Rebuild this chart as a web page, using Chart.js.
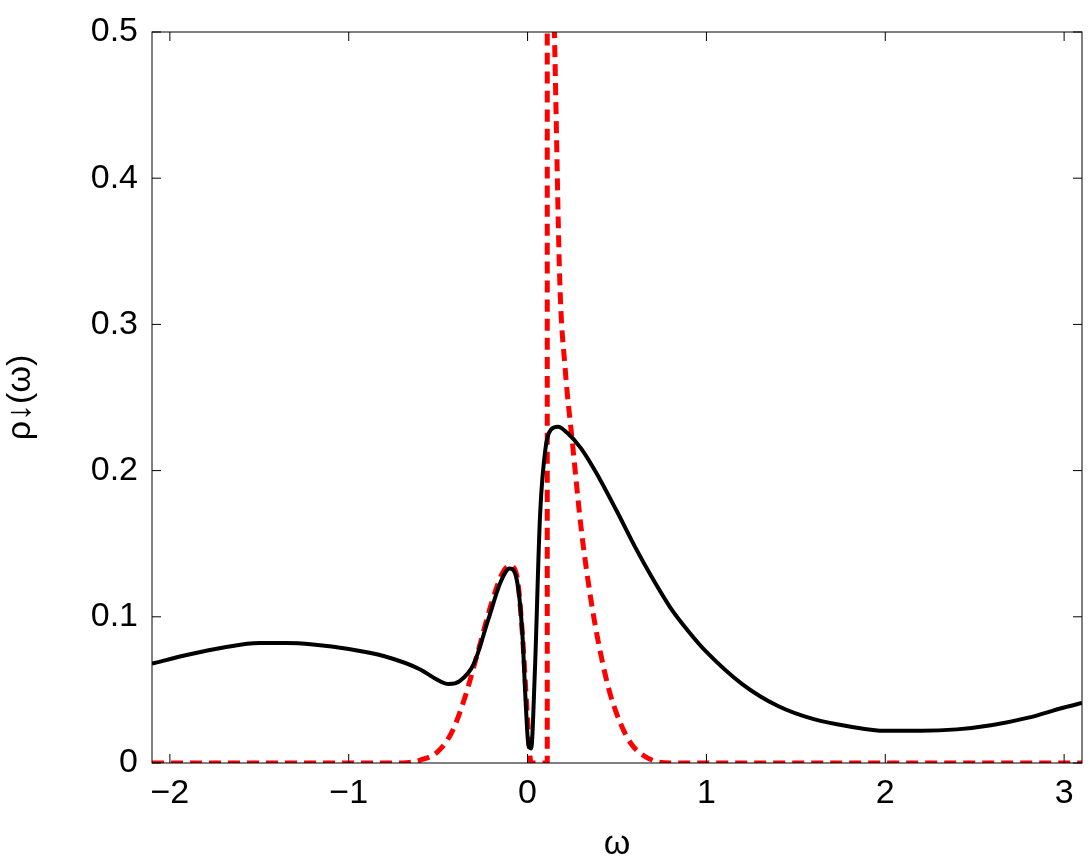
<!DOCTYPE html>
<html><head><meta charset="utf-8">
<script src="https://cdn.jsdelivr.net/npm/chart.js@4"></script>
<style>html,body{margin:0;padding:0;background:#fff}#w{width:1090px;height:865px}</style>
</head><body><div id="w"><canvas id="c"></canvas></div>
<script>
const blackX=[-2.1,-1.9,-1.7,-1.5,-1.35,-1.2,-1.0,-0.8,-0.6,-0.52,-0.44,-0.38,-0.3,-0.22,-0.15,-0.1,-0.06,-0.03,-0.01,0.005,0.02,0.04,0.07,0.1,0.13,0.17,0.22,0.3,0.4,0.5,0.6,0.7,0.8,0.9,1.0,1.2,1.4,1.6,1.8,2.0,2.2,2.4,2.6,2.8,3.0,3.1];
const blackY=[0.068,0.074,0.079,0.082,0.082,0.081,0.078,0.073,0.064,0.058,0.054,0.056,0.068,0.098,0.124,0.133,0.125,0.09,0.04,0.012,0.01,0.06,0.17,0.215,0.228,0.23,0.226,0.215,0.195,0.172,0.148,0.126,0.106,0.09,0.076,0.054,0.039,0.030,0.025,0.022,0.022,0.023,0.026,0.031,0.038,0.041];
const redX=[-2.1,-0.7,-0.6,-0.5,-0.42,-0.35,-0.28,-0.2,-0.14,-0.1,-0.06,-0.03,0.0,0.02,0.11,0.11,0.13,0.15,0.18,0.21,0.25,0.3,0.35,0.4,0.46,0.52,0.58,0.65,0.72,0.8,3.1];
const redY=[0,0,0.002,0.008,0.022,0.045,0.075,0.11,0.13,0.135,0.128,0.09,0.03,0,0,0.6,0.6,0.5,0.33,0.27,0.22,0.16,0.115,0.08,0.048,0.027,0.013,0.005,0.001,0,0];
const xTicks=[-2,-1,0,1,2,3];
const yTicks=[0,0.1,0.2,0.3,0.4,0.5];
const pts=(xs,ys)=>xs.map((x,i)=>({x,y:ys[i]}));
const F='"Liberation Sans", Arial, sans-serif';
const inner={id:'inner',afterDraw(ch){const c=ch.ctx,a=ch.chartArea,xs=ch.scales.x,ys=ch.scales.y;c.save();c.strokeStyle='#000';c.lineWidth=1;c.beginPath();
xTicks.forEach(v=>{const p=xs.getPixelForValue(v);c.moveTo(p,a.bottom);c.lineTo(p,a.bottom-9);c.moveTo(p,a.top);c.lineTo(p,a.top+9);});
yTicks.forEach(v=>{const p=ys.getPixelForValue(v);c.moveTo(a.left,p);c.lineTo(a.left+9,p);c.moveTo(a.right,p);c.lineTo(a.right-9,p);});
c.stroke();c.strokeRect(a.left,a.top,a.right-a.left,a.bottom-a.top);c.restore();}};
new Chart(document.getElementById('c'),{type:'scatter',
data:{datasets:[
{data:pts(blackX,blackY),showLine:true,borderColor:'#000',borderWidth:4,pointRadius:0,cubicInterpolationMode:'monotone'},
{data:pts(redX,redY),showLine:true,borderColor:'#ff0000',borderWidth:5,borderDash:[12,7],pointRadius:0,cubicInterpolationMode:'monotone'}]},
options:{responsive:true,maintainAspectRatio:false,animation:false,layout:{padding:{top:32,right:8}},
plugins:{legend:{display:false},tooltip:{enabled:false}},
scales:{
x:{type:'linear',min:-2.1,max:3.1,afterFit(s){s.height=102;},afterBuildTicks(s){s.ticks=xTicks.map(v=>({value:v}));},
grid:{display:false},border:{display:false},
ticks:{font:{family:F,size:34},color:'#000',padding:2,callback:v=>String(v).replace('-','\u2212')},
title:{display:true,text:'ω',font:{family:F,size:34},color:'#000',padding:0}},
y:{min:0,max:0.5,afterFit(s){s.width=152;},afterBuildTicks(s){s.ticks=yTicks.map(v=>({value:v}));},
grid:{display:false},border:{display:false},
ticks:{font:{family:F,size:34},color:'#000',padding:6,callback:v=>v===0?'0':v.toFixed(1)},
title:{display:true,text:'ρ↓(ω)',font:{family:F,size:34},color:'#000',padding:0}}}},
plugins:[inner]});
</script></body></html>
